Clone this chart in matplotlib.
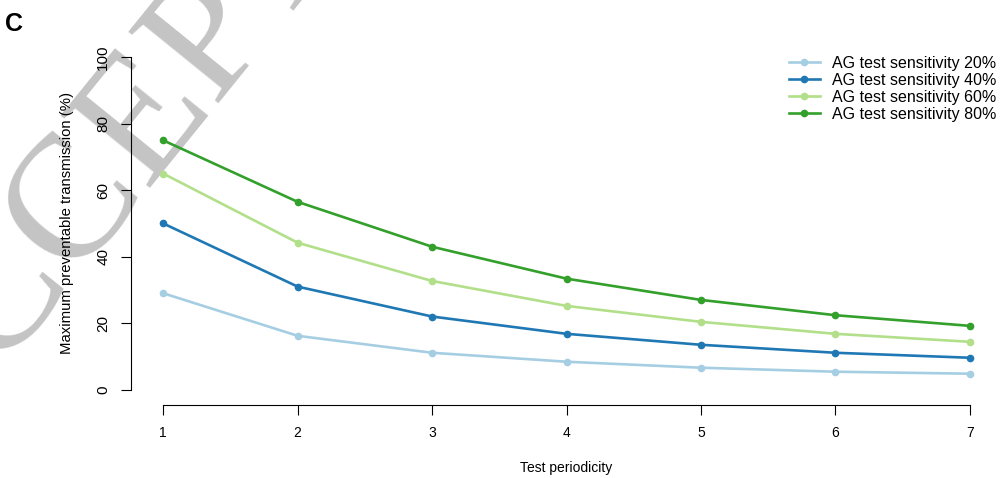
import numpy as np
import matplotlib.pyplot as plt

plt.rcParams['font.family'] = ['Liberation Sans', 'DejaVu Sans']

periodicity = [1, 2, 3, 4, 5, 6, 7]
sens_labels = ['AG test sensitivity 20%', 'AG test sensitivity 40%',
               'AG test sensitivity 60%', 'AG test sensitivity 80%']
sens20 = [29.0, 16.2, 11.1, 8.4, 6.6, 5.4, 4.8]
sens40 = [50.0, 31.0, 22.0, 16.8, 13.5, 11.1, 9.6]
sens60 = [65.0, 44.2, 32.7, 25.2, 20.4, 16.8, 14.4]
sens80 = [75.0, 56.5, 43.0, 33.4, 27.0, 22.4, 19.2]
colors = ['#A6CEE3', '#1F78B4', '#B2DF8A', '#33A02C']

fig = plt.figure(figsize=(10, 4.78), dpi=100)

# watermark behind everything
fig.text(0.172, 0.81, 'ACCEPTED', family='Liberation Serif', fontsize=127,
         color='#c4c4c4', rotation=51, rotation_mode='anchor',
         ha='center', va='center', zorder=-10)

ax = fig.add_axes([0.131, 0.157, 0.871, 0.751])
ax.patch.set_alpha(0)

for ys, c, lab in zip([sens20, sens40, sens60, sens80], colors, sens_labels):
    ax.plot(periodicity, ys, color=c, lw=1.9, marker='o', ms=4.5, label=lab)

ax.set_xlim(0.76, 7.24)
ax.set_ylim(-4, 104)
ax.set_xticks(periodicity)
ax.set_yticks([0, 20, 40, 60, 80, 100])
ax.tick_params(axis='x', length=7, width=0.8, labelsize=10, pad=8)
ax.tick_params(axis='y', length=7, width=0.8, labelsize=11, pad=8)
for t in ax.get_yticklabels():
    t.set_rotation(90)
    t.set_va('center')

for s in ['top', 'right']:
    ax.spines[s].set_visible(False)
ax.spines['left'].set_bounds(0, 100)
ax.spines['bottom'].set_bounds(1, 7)
ax.spines['bottom'].set_position(('outward', 1.5))
ax.spines['left'].set_linewidth(0.8)
ax.spines['bottom'].set_linewidth(0.8)

ax.set_xlabel('Test periodicity', fontsize=10, labelpad=15)
ax.set_ylabel('Maximum preventable transmission (%)', fontsize=10.7, labelpad=16)

ax.legend(loc='upper right', bbox_to_anchor=(1.0, 0.89), bbox_transform=fig.transFigure,
          frameon=False, fontsize=11.5, labelspacing=0.12, handlelength=1.9,
          handletextpad=0.8, borderaxespad=0, borderpad=0.2)

fig.text(0.005, 0.95, 'C', fontsize=18, fontweight='bold', va='center', ha='left')

fig.savefig('out.png', dpi=100)
